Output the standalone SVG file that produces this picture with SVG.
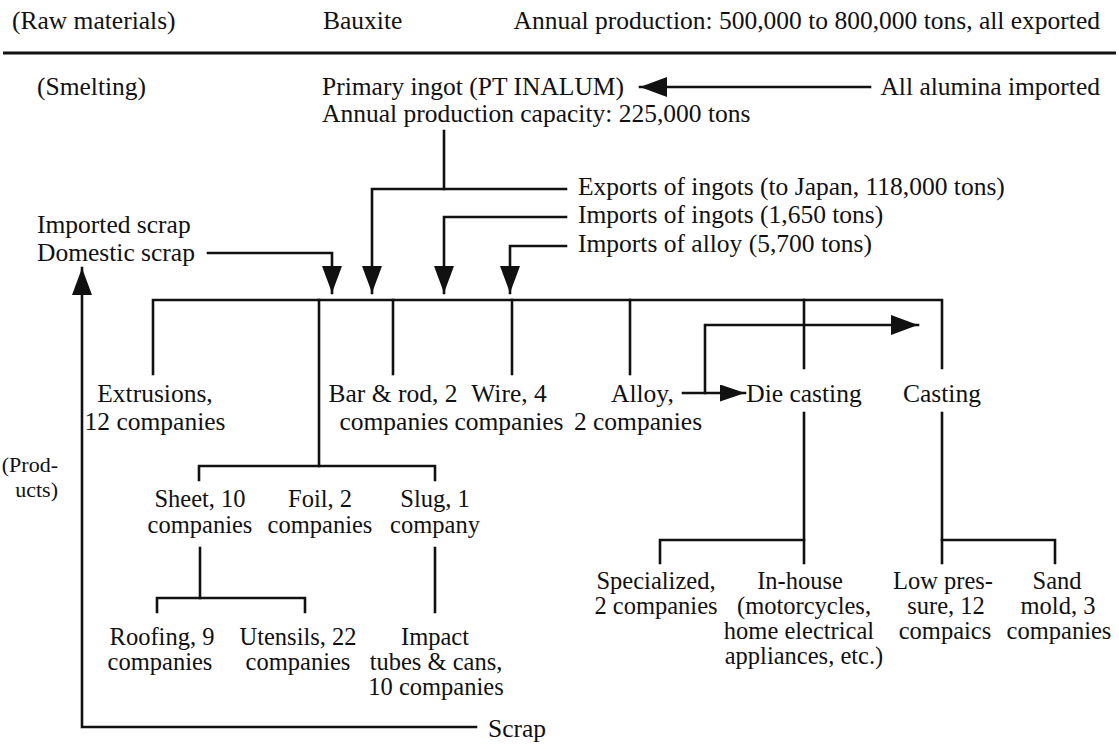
<svg xmlns="http://www.w3.org/2000/svg" width="1119" height="749" viewBox="0 0 1119 749">
  <defs>
    <style>
      text { font-family: "Liberation Serif", "Times New Roman", serif; font-size: 25.5px; fill: #111; }
      .c { text-anchor: middle; }
      .e { text-anchor: end; }
      .small { font-size: 22px; }
      .tight { font-size: 24.5px; }
      .ln { fill: none; stroke: #111; stroke-width: 2.6; stroke-linecap: square; }
    </style>
    <marker id="head" markerUnits="userSpaceOnUse" markerWidth="28" markerHeight="22" refX="27" refY="10" orient="auto">
      <path d="M0,0 L27,10 L0,20 Z" fill="#111"/>
    </marker>
    <marker id="headSmall" markerUnits="userSpaceOnUse" markerWidth="26" markerHeight="20" refX="25" refY="8.5" orient="auto">
      <path d="M0,0 L25,8.5 L0,17 Z" fill="#111"/>
    </marker>
  </defs>
  <rect width="1119" height="749" fill="#fff"/>

  <!-- header row and rule -->
  <g id="raw-materials">
    <text x="12" y="29">(Raw materials)</text>
    <text x="323" y="29">Bauxite</text>
    <text x="1100" y="29" class="e">Annual production: 500,000 to 800,000 tons, all exported</text>
  </g>
  <line x1="3" y1="53" x2="1116" y2="53" stroke="#111" stroke-width="3"/>

  <g id="smelting">
    <text x="37" y="95">(Smelting)</text>
  </g>
  <g id="primary-ingot">
    <text x="322" y="95">Primary ingot (PT INALUM)</text>
    <text x="322" y="122">Annual production capacity: 225,000 tons</text>
  </g>
  <g id="alumina">
    <text x="1100" y="95" class="e">All alumina imported</text>
  </g>

  <g id="exports-ingots"><text x="578" y="195">Exports of ingots (to Japan, 118,000 tons)</text></g>
  <g id="imports-ingots"><text x="578" y="223">Imports of ingots (1,650 tons)</text></g>
  <g id="imports-alloy"><text x="578" y="252">Imports of alloy (5,700 tons)</text></g>
  <g id="scrap-in">
    <text x="37" y="233">Imported scrap</text>
    <text x="37" y="261">Domestic scrap</text>
  </g>

  <!-- first tier of products -->
  <g id="extrusions">
    <text x="155" y="402" class="c">Extrusions,<tspan x="155" dy="28">12 companies</tspan></text>
  </g>
  <g id="bar-rod">
    <text x="393" y="402" class="c">Bar &amp; rod, 2<tspan x="394" dy="28">companies</tspan></text>
  </g>
  <g id="wire">
    <text x="509" y="402" class="c">Wire, 4<tspan x="509" dy="28">companies</tspan></text>
  </g>
  <g id="alloy">
    <text x="611" y="402">Alloy,</text>
    <text x="638" y="430" class="c">2 companies</text>
  </g>
  <g id="die-casting"><text x="804" y="402" class="c">Die casting</text></g>
  <g id="casting"><text x="942" y="402" class="c">Casting</text></g>

  <g id="products-label">
    <text x="58" y="472" class="e small">(Prod-</text>
    <text x="58" y="497" class="e small">ucts)</text>
  </g>

  <!-- rolled products -->
  <g id="sheet"><text x="200" y="507" class="c tight">Sheet, 10<tspan x="200" dy="26">companies</tspan></text></g>
  <g id="foil"><text x="320" y="507" class="c tight">Foil, 2<tspan x="320" dy="26">companies</tspan></text></g>
  <g id="slug"><text x="435" y="507" class="c tight">Slug, 1<tspan x="435" dy="26">company</tspan></text></g>

  <g id="roofing"><text x="162" y="645" class="c tight">Roofing, 9<tspan x="160" dy="25">companies</tspan></text></g>
  <g id="utensils"><text x="298" y="645" class="c tight">Utensils, 22<tspan x="298" dy="25">companies</tspan></text></g>
  <g id="impact"><text x="435" y="645" class="c tight">Impact<tspan x="436" dy="25">tubes &amp; cans,</tspan><tspan x="436" dy="25">10 companies</tspan></text></g>

  <!-- castings -->
  <g id="specialized"><text x="656" y="589" class="c tight">Specialized,<tspan x="656" dy="25">2 companies</tspan></text></g>
  <g id="in-house"><text x="800" y="589" class="c tight">In-house<tspan x="804" dy="25">(motorcycles,</tspan><tspan x="799" dy="25">home electrical</tspan><tspan x="804" dy="25">appliances, etc.)</tspan></text></g>
  <g id="low-pressure"><text x="943" y="589" class="c tight">Low pres-<tspan x="946" dy="25">sure, 12</tspan><tspan x="945" dy="25">compaics</tspan></text></g>
  <g id="sand-mold"><text x="1057" y="589" class="c tight">Sand<tspan x="1058" dy="25">mold, 3</tspan><tspan x="1059" dy="25">companies</tspan></text></g>

  <g id="scrap-out"><text x="488" y="737">Scrap</text></g>

  <!-- connectors -->
  <g id="connectors">
    <path class="ln" d="M870,87 H640" marker-end="url(#head)"/>
    <path class="ln" d="M444,131 V189"/>
    <path class="ln" d="M566,189 H372 V293" marker-end="url(#head)"/>
    <path class="ln" d="M566,217 H444 V293" marker-end="url(#head)"/>
    <path class="ln" d="M566,246 H510 V293" marker-end="url(#head)"/>
    <path class="ln" d="M208,253 H332 V293" marker-end="url(#head)"/>

    <path class="ln" d="M153,374 V300 H942 V368"/>
    <path class="ln" d="M393,300 V374"/>
    <path class="ln" d="M512,300 V374"/>
    <path class="ln" d="M630,300 V374"/>
    <path class="ln" d="M804,300 V368"/>

    <path class="ln" d="M319,300 V466"/>
    <path class="ln" d="M199,480 V466 H435 V480"/>

    <path class="ln" d="M683,393 H745" marker-end="url(#headSmall)"/>
    <path class="ln" d="M705,393 V325 H918" marker-end="url(#head)"/>

    <path class="ln" d="M804,413 V563"/>
    <path class="ln" d="M660,563 V540 H804"/>
    <path class="ln" d="M942,413 V563"/>
    <path class="ln" d="M942,540 H1055 V563"/>

    <path class="ln" d="M200,548 V598"/>
    <path class="ln" d="M157,612 V598 H305 V612"/>
    <path class="ln" d="M435,548 V612"/>

    <path class="ln" d="M476,727 H82 V268" marker-end="url(#head)"/>
  </g>
</svg>
